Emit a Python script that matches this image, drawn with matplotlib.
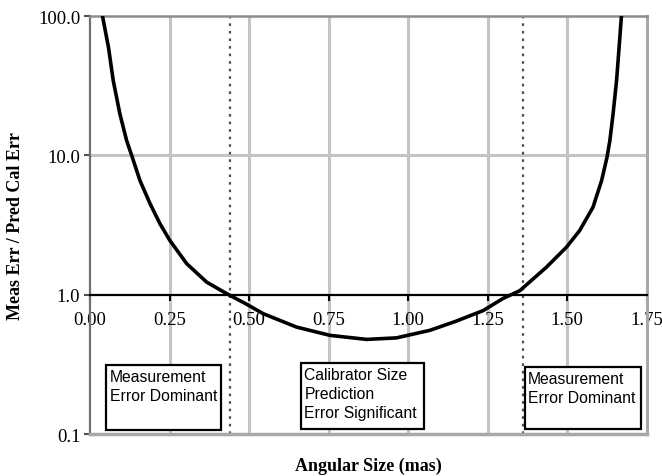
import numpy as np
import matplotlib as mpl
import matplotlib.pyplot as plt
from matplotlib.patches import Rectangle
from matplotlib.ticker import FixedLocator, FormatStrFormatter, NullLocator

# ratio of measurement error to predicted calibrator error vs angular size
size_mas = [0.040, 0.058, 0.073, 0.094, 0.115, 0.131, 0.157, 0.189, 0.220,
            0.251, 0.304, 0.367, 0.429, 0.490, 0.545, 0.649, 0.754, 0.869,
            0.963, 1.068, 1.150, 1.236, 1.298, 1.351, 1.435, 1.498, 1.539,
            1.581, 1.608, 1.625, 1.634, 1.644, 1.655, 1.663, 1.670]
err_ratio = [98.0, 59.7, 34.4, 19.8, 12.8, 10.0, 6.6, 4.49, 3.23,
             2.45, 1.67, 1.23, 1.02, 0.86, 0.73, 0.586, 0.511, 0.478,
             0.49, 0.555, 0.645, 0.77, 0.94, 1.07, 1.58, 2.2, 2.89,
             4.25, 6.6, 9.7, 12.8, 19.8, 34.4, 59.7, 98.0]

# crossover sizes where the ratio passes 1
crossovers = [0.44, 1.36]

x_ticks = [0.00, 0.25, 0.50, 0.75, 1.00, 1.25, 1.50, 1.75]
y_ticks = [0.1, 1.0, 10.0, 100.0]

region_notes = ["Measurement\nError Dominant",
                "Calibrator Size\nPrediction\nError Significant",
                "Measurement\nError Dominant"]

serif = "Liberation Serif"
sans = "Liberation Sans"

fig = plt.figure(figsize=(6.62, 4.77), dpi=100)
ax = fig.add_axes([0.136, 0.088, 0.841, 0.876])

ax.set_yscale("log")
ax.set_xlim(0, 1.75)
ax.set_ylim(0.1, 100)

# grid
for xv in x_ticks[1:-1]:
    ax.axvline(xv, color="#c4c4c4", lw=2.2, zorder=1)
ax.axhline(10, color="#c4c4c4", lw=2.2, zorder=1)

for xv in crossovers:
    ax.axvline(xv, color="#505050", lw=1.6, ls=(0, (1.2, 2.2)), zorder=2)

ax.plot(size_mas, err_ratio, color="black", lw=2.6, zorder=4,
        solid_joinstyle="round", clip_on=True)

# x axis sits on the y = 1 line
ax.spines["bottom"].set_position(("data", 1.0))
ax.spines["bottom"].set_color("black")
ax.spines["bottom"].set_linewidth(1.6)
ax.spines["bottom"].set_zorder(3)
ax.axhline(0.1, color="#a8a8a8", lw=2.5, zorder=3, clip_on=False)
ax.spines["left"].set_color("#707070")
ax.spines["left"].set_linewidth(1.6)
ax.spines["top"].set_color("#8c8c8c")
ax.spines["top"].set_linewidth(1.8)
ax.spines["right"].set_color("#a8a8a8")
ax.spines["right"].set_linewidth(2.2)

ax.xaxis.set_major_locator(FixedLocator(x_ticks))
ax.xaxis.set_major_formatter(FormatStrFormatter("%.2f"))
ax.yaxis.set_major_locator(FixedLocator(y_ticks))
ax.yaxis.set_major_formatter(FormatStrFormatter("%.1f"))
ax.yaxis.set_minor_locator(NullLocator())
ax.xaxis.set_minor_locator(NullLocator())

ax.tick_params(axis="x", direction="out", length=4, width=1.5,
               color="black", pad=8)
ax.tick_params(axis="y", direction="out", length=4, width=1.5,
               color="#505050", pad=3)
for lab in ax.get_xticklabels() + ax.get_yticklabels():
    lab.set_fontfamily(serif)
    lab.set_fontsize(13.5)

ax.set_xlabel("Angular Size (mas)", fontfamily=serif, fontweight="bold",
              fontsize=13)
ax.xaxis.set_label_coords(0.5, -0.055)
ax.set_ylabel("Meas Err / Pred Cal Err", fontfamily=serif,
              fontweight="bold", fontsize=13)
ax.yaxis.set_label_coords(-0.118, 0.5)

# annotation boxes (axes fraction)
boxes = [(0.029, 0.010, 0.206, 0.155),
         (0.379, 0.012, 0.221, 0.158),
         (0.781, 0.012, 0.208, 0.148)]
for (bx, by, bw, bh), note in zip(boxes, region_notes):
    ax.add_patch(Rectangle((bx, by), bw, bh, transform=ax.transAxes,
                           facecolor="white", edgecolor="black", lw=1.6,
                           zorder=5))
    ax.text(bx + 0.006, by + bh - 0.01, note, transform=ax.transAxes,
            ha="left", va="top", fontfamily=sans, fontsize=11.3,
            linespacing=1.32, zorder=6)

fig.savefig("out.png", dpi=100)
